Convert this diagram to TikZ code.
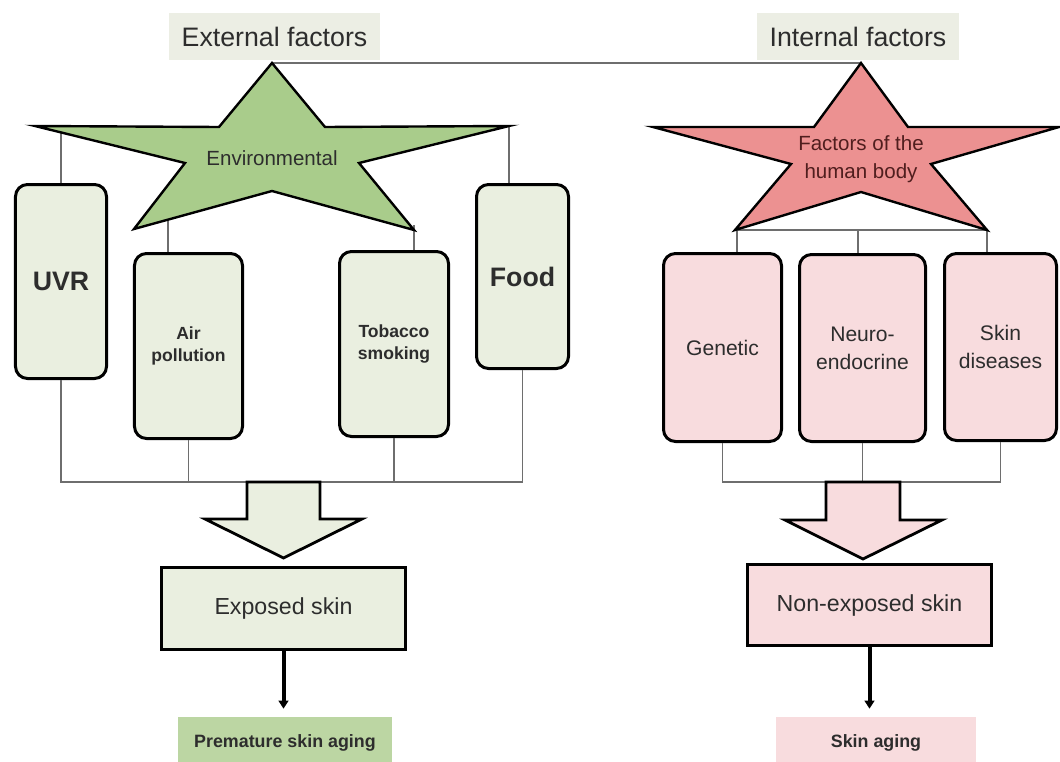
\documentclass[tikz,border=0pt]{standalone}
\usepackage{fontspec}
\setmainfont{Liberation Sans}
\usepackage{xcolor}
\usetikzlibrary{positioning,arrows.meta}
\definecolor{envstar}{RGB}{169,204,139}
\definecolor{envbox}{RGB}{234,239,224}
\definecolor{envres}{RGB}{188,214,163}
\definecolor{bodystar}{RGB}{236,145,145}
\definecolor{bodybox}{RGB}{248,220,222}
\definecolor{bodytxt}{RGB}{80,30,30}
\definecolor{hdrfill}{RGB}{236,238,228}
\definecolor{txt}{RGB}{45,45,45}
\definecolor{link}{RGB}{110,110,110}

\begin{document}
\begin{tikzpicture}[
  x=0.25mm, y=-0.25mm,
  hdr/.style={fill=hdrfill, text=txt, minimum height=11.75mm,
              font=\fontsize{19}{23}\selectfont},
  fbox/.style={draw, line width=0.75mm, rounded corners=3mm, text=txt,
               align=center, inner sep=0pt},
  bigf/.style={font=\bfseries\fontsize{19}{23}\selectfont},
  smallf/.style={font=\bfseries\fontsize{12.5}{16}\selectfont},
  bodyf/.style={font=\fontsize{15}{20}\selectfont},
  skin/.style={draw, line width=0.75mm, text=txt, minimum width=61mm,
               font=\fontsize{16.5}{20}\selectfont},
  res/.style={text=txt, minimum height=13mm,
              font=\bfseries\fontsize{12.7}{15}\selectfont},
  starline/.style={draw, line width=0.6mm, line join=miter},
  conn/.style={draw=link, line width=0.35mm},
  blk/.style={draw, line width=0.7mm, line join=miter},
  arr/.style={-{Triangle[length=2mm,width=2.4mm]}, line width=1mm,
              shorten >=2mm}
]
\useasboundingbox (0,0) rectangle (1060,762);

\node[hdr, minimum width=52.75mm] (ext) at (274.5,36.5) {External factors};
\node[hdr, minimum width=50.5mm] (int) at (858,36.5) {Internal factors};

\node[fbox, bigf, fill=envbox, minimum width=22.75mm, minimum height=48.5mm] (uvr) at (61,281.5) {UVR};
\node[fbox, smallf, fill=envbox, minimum width=27mm, minimum height=46.25mm] (air) at (188.5,346) {Air\\pollution};
\node[fbox, smallf, fill=envbox, minimum width=27.25mm, minimum height=46.25mm] (tob) at (394,344) {Tobacco\\smoking};
\node[fbox, bigf, fill=envbox, minimum width=23mm, minimum height=46mm] (food) at (522.5,276.5) {Food};

\node[fbox, bodyf, fill=bodybox, minimum width=29.5mm, minimum height=47mm] (gen) at (722.5,347.5) {Genetic};
\node[fbox, bodyf, fill=bodybox, minimum width=31.5mm, minimum height=46.75mm] (neu) at (862.5,348) {Neuro-\\endocrine};
\node[fbox, bodyf, fill=bodybox, minimum width=28mm, minimum height=46.75mm] (skd) at (1000.5,347) {Skin\\diseases};

\node[skin, fill=envbox, minimum height=20.5mm] (expo) at (283.5,608.5) {Exposed skin};
\node[skin, fill=bodybox, minimum height=20.25mm] (nexp) at (869.5,605) {Non-exposed skin};

\node[res, fill=envres, minimum width=53.5mm] (prem) at (285,743) {Premature skin aging};
\node[res, fill=bodybox, minimum width=50mm] (sag) at (876,743) {Skin aging};

\coordinate (gtop) at (272,63);
\coordinate (rtop) at (861,63);
\coordinate (gl) at (61,127);
\coordinate (gr) at (509,127);
\coordinate (gbl) at (168,215);
\coordinate (gbr) at (414,225);
\coordinate (rbl) at (737,230);
\coordinate (rbr) at (987,230);
\coordinate (rmid) at (858,230);
\coordinate (gbus) at (0,482);

\draw[conn] (gtop) -- (rtop);
\draw[conn] (gl) -- (gl |- uvr.north);
\draw[conn] (gr) -- (gr |- food.north);
\draw[conn] (gbl) -- (gbl |- air.north);
\draw[conn] (gbr) -- (gbr |- tob.north);
\draw[conn] (rbl |- gen.north) -- (rbl) -- (rbr) -- (rbr |- skd.north);
\draw[conn] (rmid) -- (rmid |- neu.north);

\draw[conn] (uvr.south) |- (food.south |- gbus) -- (food.south);
\draw[conn] (air.south) -- (air.south |- gbus);
\draw[conn] (tob.south) -- (tob.south |- gbus);
\draw[conn] (gen.south) |- (skd.south |- gbus) -- (skd.south);
\draw[conn] (neu.south) -- (neu.south |- gbus);

\path[starline, fill=envstar] (gtop) -- (325,127) -- (509,126) -- (359,163)
  -- (414,230) -- (272,191) -- (134,229) -- (185,163) -- (35,126)
  -- (219,127) -- cycle;
\node[text=txt, font=\fontsize{14.6}{20}\selectfont] (env) at (272,158) {Environmental};

\path[starline, fill=bodystar] (rtop) -- (908,127) -- (1059,127) -- (931,164)
  -- (987,230) -- (861,192) -- (735,230) -- (791,164) -- (653,127)
  -- (814,127) -- cycle;
\node[text=bodytxt, align=center, font=\fontsize{14.6}{20}\selectfont] (body) at (861,159) {Factors of the\\human body};

\path[blk, fill=envbox] (247,482) -- (247,519) -- (205,519) -- (283.5,558)
  -- (362,519) -- (320,519) -- (320,482) -- cycle;
\path[blk, fill=bodybox] (826,482) -- (826,520) -- (785,520) -- (863,559)
  -- (942,520) -- (900,520) -- (900,482) -- cycle;

\draw[arr] (expo.south) -- (expo.south |- prem.north);
\draw[arr] (nexp.south) -- (nexp.south |- sag.north);
\end{tikzpicture}
\end{document}
